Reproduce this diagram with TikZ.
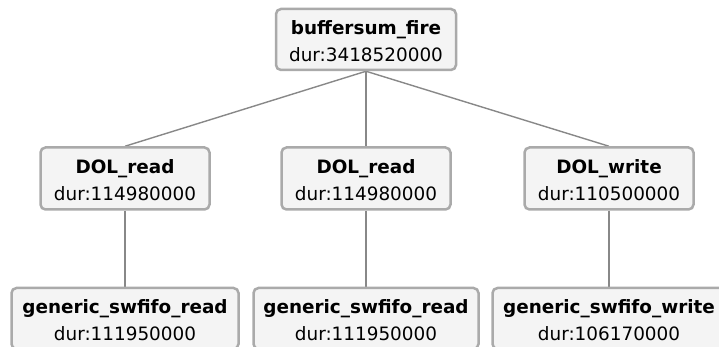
\documentclass[tikz,border=0pt]{standalone}
\usepackage{fontspec}
\setmainfont{DejaVu Sans}
\usetikzlibrary{backgrounds}
\definecolor{boxfill}{HTML}{F4F4F4}
\definecolor{boxline}{HTML}{AAAAAA}
\definecolor{edgecol}{HTML}{888888}
\tikzset{
  callbox/.style={draw=boxline, fill=boxfill, line width=2.5pt, rounded corners=5pt,
    align=center, inner sep=0pt, minimum height=61pt, text=black,
    font=\fontsize{18.4}{27}\selectfont},
  calledge/.style={draw=edgecol, line width=1.4pt}
}
\newcommand{\callname}[2]{\rule{0pt}{18pt}\textbf{#1}\\dur:#2}
\begin{document}
\begin{tikzpicture}[x=1pt,y=1pt]
\useasboundingbox (0,0) rectangle (719,347);
\clip (0,0) rectangle (719,347);
\node[callbox, minimum width=180pt] (top) at (366,307.5) {\callname{buffersum\_fire}{3418520000}};
\node[callbox, minimum width=169pt, minimum height=62pt] (m1) at (125,168.5) {\callname{DOL\_read}{114980000}};
\node[callbox, minimum width=169pt, minimum height=62pt] (m2) at (366,168.5) {\callname{DOL\_read}{114980000}};
\node[callbox, minimum width=169pt, minimum height=62pt] (m3) at (609,168.5) {\callname{DOL\_write}{110500000}};
\node[callbox, minimum width=227pt] (b1) at (125,28.5) {\callname{generic\_swfifo\_read}{111950000}};
\node[callbox, minimum width=225pt] (b2) at (366,28.5) {\callname{generic\_swfifo\_read}{111950000}};
\node[callbox, minimum width=233pt] (b3) at (609,28.5) {\callname{generic\_swfifo\_write}{106170000}};
\begin{scope}[on background layer]
\draw[calledge] (top.south) -- (m1.north);
\draw[calledge] (top.south) -- (m2.north);
\draw[calledge] (top.south) -- (m3.north);
\draw[calledge] (m1.south) -- (b1.north);
\draw[calledge] (m2.south) -- (b2.north);
\draw[calledge] (m3.south) -- (b3.north);
\end{scope}
\end{tikzpicture}
\end{document}
